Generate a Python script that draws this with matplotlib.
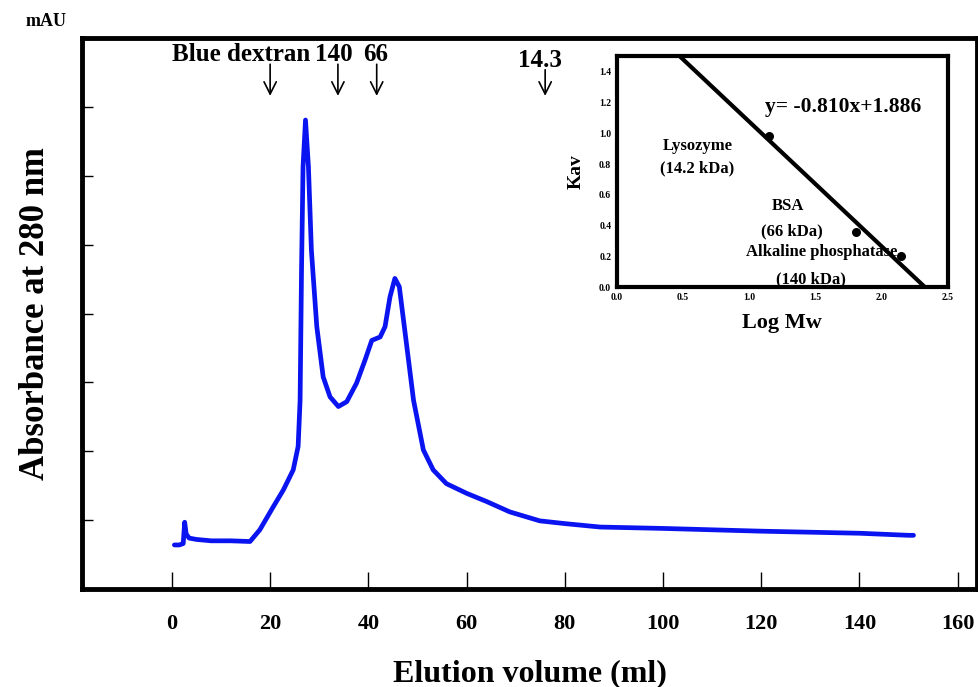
import matplotlib
matplotlib.use("Agg")
from matplotlib import pyplot as plt

plt.rcParams['font.family'] = ['Liberation Serif', 'DejaVu Serif']
plt.rcParams['font.weight'] = 'bold'
plt.rcParams['axes.labelweight'] = 'bold'

# chromatogram (elution volume ml, absorbance in arbitrary tick units)
volume = [0.5, 1.5, 2.3, 2.6, 2.9, 3.5, 5, 8, 12, 15.9, 17.9, 20.6, 22.7, 24.7, 25.7,
          26.1, 26.4, 26.7, 27.2, 27.8, 28.4, 29.5, 30.8, 32.2, 33.9, 35.6, 37.6, 39.3,
          40.7, 42.4, 43.4, 44.4, 45.4, 46.3, 47.5, 49.2, 51.2, 53.2, 55.9, 60.0, 64.1,
          68.8, 74.9, 80, 87.2, 100, 120, 140, 150, 151]
absorb = [0.64, 0.64, 0.66, 0.97, 0.80, 0.74, 0.72, 0.70, 0.70, 0.69, 0.86, 1.19, 1.44,
          1.73, 2.07, 2.74, 4.68, 6.13, 6.81, 6.13, 4.92, 3.81, 3.08, 2.79, 2.65, 2.72,
          2.99, 3.32, 3.61, 3.66, 3.81, 4.24, 4.51, 4.39, 3.71, 2.74, 2.02, 1.73, 1.53,
          1.39, 1.27, 1.12, 0.99, 0.95, 0.90, 0.88, 0.84, 0.81, 0.78, 0.78]

markers = ['Blue dextran', '140', '66', '14.3']
marker_x = [20, 33.8, 41.7, 76]

# calibration inset
log_mw = [1.15, 1.81, 2.15]
kav = [0.98, 0.36, 0.20]
slope, intercept = -0.810, 1.886

fig = plt.figure(figsize=(9.79, 6.87), dpi=100)
ax = fig.add_axes([0.0838, 0.1426, 0.914, 0.802])

ax.plot(volume, absorb, color='#0a14f0', lw=3.4, solid_capstyle='round', solid_joinstyle='round')
ax.set_xlim(-18.3, 163.9)
ax.set_ylim(0, 8)
ax.set_xticks(range(0, 161, 20))
ax.set_yticks(range(1, 8))
ax.set_yticklabels([])
ax.tick_params(axis='x', direction='in', length=12, width=1, labelsize=16, pad=18)
ax.tick_params(axis='y', direction='in', length=8, width=1)
for s in ax.spines.values():
    s.set_linewidth(3.5)
ax.set_xlabel('Elution volume (ml)', fontsize=23, labelpad=18)
ax.set_ylabel('Absorbance at 280 nm', fontsize=25, labelpad=18)

text_x = [14.0, 32.9, 41.4, 75.0]
for name, xm, xt in zip(markers, marker_x, text_x):
    top = 7.66 if name != '14.3' else 7.58
    ax.annotate('', xy=(xm, 7.12), xytext=(xm, top),
                arrowprops=dict(arrowstyle='->', lw=1.2, color='black', mutation_scale=22))
    ax.text(xt, 7.76 if name != '14.3' else 7.68, name, fontsize=18, ha='center', va='center')

fig.text(0.047, 0.969, 'mAU', fontsize=13, ha='center', va='center')

# inset
ins = fig.add_axes([0.630, 0.582, 0.338, 0.336])
ins.scatter(log_mw, kav, s=30, color='black', zorder=3)
fx = [0, 2.5]
ins.plot(fx, [slope * v + intercept for v in fx], color='black', lw=3)
ins.set_xlim(0, 2.5)
ins.set_ylim(0, 1.5)
ins.set_xticks([0, 0.5, 1.0, 1.5, 2.0, 2.5])
ins.set_yticks([0, 0.2, 0.4, 0.6, 0.8, 1.0, 1.2, 1.4])
ins.xaxis.set_major_formatter(matplotlib.ticker.FormatStrFormatter('%.1f'))
ins.yaxis.set_major_formatter(matplotlib.ticker.FormatStrFormatter('%.1f'))
ins.tick_params(labelsize=7, length=0, pad=4)
for s in ins.spines.values():
    s.set_linewidth(3)
ins.set_xlabel('Log Mw', fontsize=16, labelpad=8)
ins.set_ylabel('Kav', fontsize=14, labelpad=10)
ins.text(1.71, 1.17, 'y= -0.810x+1.886', fontsize=15.5, ha='center', va='center')
ins.text(0.61, 0.92, 'Lysozyme', fontsize=12, ha='center', va='center')
ins.text(0.61, 0.77, '(14.2 kDa)', fontsize=12, ha='center', va='center')
ins.text(1.29, 0.53, 'BSA', fontsize=12, ha='center', va='center')
ins.text(1.32, 0.365, '(66 kDa)', fontsize=12, ha='center', va='center')
ins.text(1.55, 0.23, 'Alkaline phosphatase', fontsize=12, ha='center', va='center')
ins.text(1.47, 0.05, '(140 kDa)', fontsize=12, ha='center', va='center')

fig.savefig('out.png', dpi=100)
